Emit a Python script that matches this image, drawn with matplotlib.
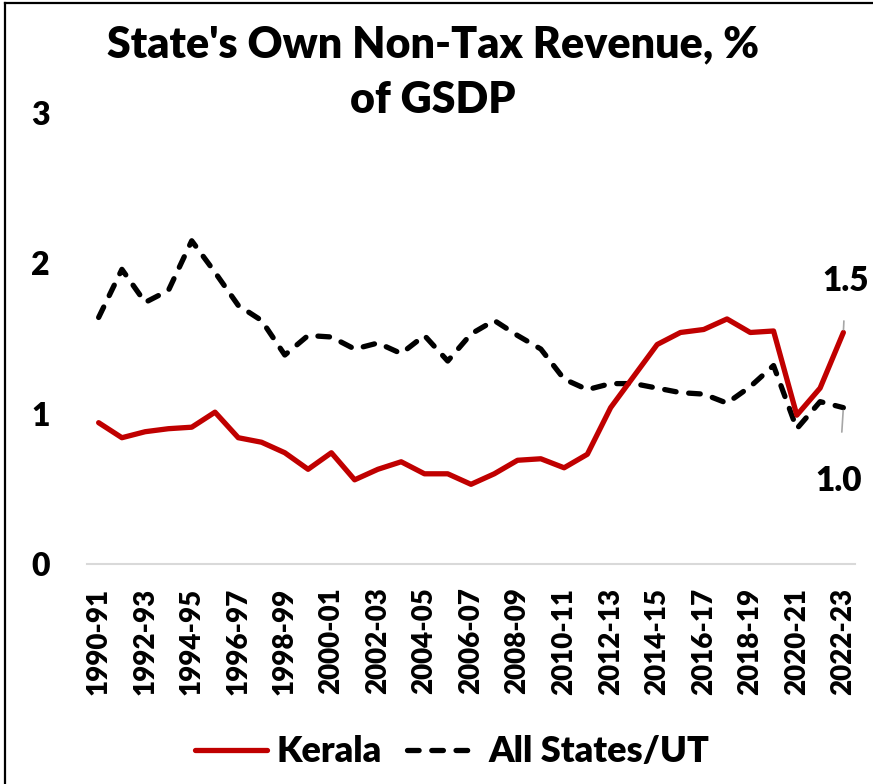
import matplotlib
matplotlib.use("Agg")
import matplotlib.pyplot as plt
from matplotlib.lines import Line2D

plt.rcParams['font.family'] = ['Lato', 'DejaVu Sans']
plt.rcParams['font.weight'] = 'heavy'

years = ["1990-91", "1991-92", "1992-93", "1993-94", "1994-95", "1995-96",
         "1996-97", "1997-98", "1998-99", "1999-00", "2000-01", "2001-02",
         "2002-03", "2003-04", "2004-05", "2005-06", "2006-07", "2007-08",
         "2008-09", "2009-10", "2010-11", "2011-12", "2012-13", "2013-14",
         "2014-15", "2015-16", "2016-17", "2017-18", "2018-19", "2019-20",
         "2020-21", "2021-22", "2022-23"]

kerala = [0.94, 0.84, 0.88, 0.90, 0.91, 1.01, 0.84, 0.81, 0.74, 0.63,
          0.74, 0.56, 0.63, 0.68, 0.60, 0.60, 0.53, 0.60, 0.69, 0.70,
          0.64, 0.73, 1.04, 1.25, 1.46, 1.54, 1.56, 1.63, 1.54, 1.55,
          0.99, 1.17, 1.54]

all_states = [1.64, 1.96, 1.74, 1.82, 2.15, 1.94, 1.72, 1.62, 1.39, 1.52,
              1.51, 1.43, 1.47, 1.40, 1.52, 1.35, 1.53, 1.62, 1.52, 1.43,
              1.23, 1.16, 1.20, 1.20, 1.17, 1.14, 1.13, 1.07, 1.18, 1.32,
              0.90, 1.08, 1.04]

y_ticks = [0, 1, 2, 3]

W, H = 873, 784
WEIGHT = "heavy"
fig = plt.figure(figsize=(W / 100, H / 100), dpi=100)
ax = fig.add_axes([87 / W, 1 - 564 / H, (855 - 87) / W, (564 - 113) / H])

x = list(range(len(years)))
ax.plot(x, kerala, color="#C00000", lw=3.8, solid_capstyle="round",
        solid_joinstyle="round", label="Kerala", zorder=3)
ax.plot(x, all_states, color="black", lw=3.8, linestyle=(0, (2.2, 2.4)),
        dash_capstyle="round", solid_joinstyle="round",
        label="All States/UT", zorder=2)

ax.set_xlim(-0.5, len(years) - 0.5)
ax.set_ylim(0, 3)
ax.set_yticks(y_ticks)
ax.set_yticklabels([str(t) for t in y_ticks], fontsize=23, fontweight=WEIGHT)
ax.set_xticks(x[::2])
ax.set_xticklabels(years[::2], rotation=90, fontsize=20, fontweight=WEIGHT)
ax.tick_params(axis="both", length=0)
ax.tick_params(axis="y", pad=27)
ax.tick_params(axis="x", pad=17)
for s in ["top", "right", "left"]:
    ax.spines[s].set_visible(False)
ax.spines["bottom"].set_color("#D9D9D9")
ax.spines["bottom"].set_linewidth(1.5)

# end-point value labels with leader lines
last = len(years) - 1
ax.annotate(f"{kerala[-1]:.1f}", xy=(last, kerala[-1]),
            xytext=(last + 0.1, kerala[-1] + 0.34),
            ha="center", va="center", fontsize=24, fontweight=WEIGHT,
            arrowprops=dict(arrowstyle="-", color="#A6A6A6", lw=1.2,
                            shrinkA=15, shrinkB=2))
ax.annotate(f"{all_states[-1]:.1f}", xy=(last, all_states[-1]),
            xytext=(last - 0.2, all_states[-1] - 0.49),
            ha="center", va="center", fontsize=24, fontweight=WEIGHT,
            arrowprops=dict(arrowstyle="-", color="#A6A6A6", lw=1.2,
                            shrinkA=22, shrinkB=2))

fig.text(433 / W, 1 - 44 / H, "State's Own Non-Tax Revenue, %",
         ha="center", va="center", fontsize=31, fontweight=WEIGHT)
fig.text(433 / W, 1 - 100 / H, "of GSDP",
         ha="center", va="center", fontsize=31, fontweight=WEIGHT)

fig.legend(loc="center", bbox_to_anchor=(452 / W, 1 - 752 / H), ncol=2,
           frameon=False, fontsize=26, handlelength=2.0, handletextpad=0.25,
           columnspacing=0.7)

# chart frame (top and left edges)
fig.add_artist(Line2D([5, W], [H - 3, H - 3], transform=None,
                      color="black", lw=1.6))
fig.add_artist(Line2D([5, 5], [0, H - 3], transform=None,
                      color="black", lw=1.6))

fig.savefig("out.png", dpi=100)
